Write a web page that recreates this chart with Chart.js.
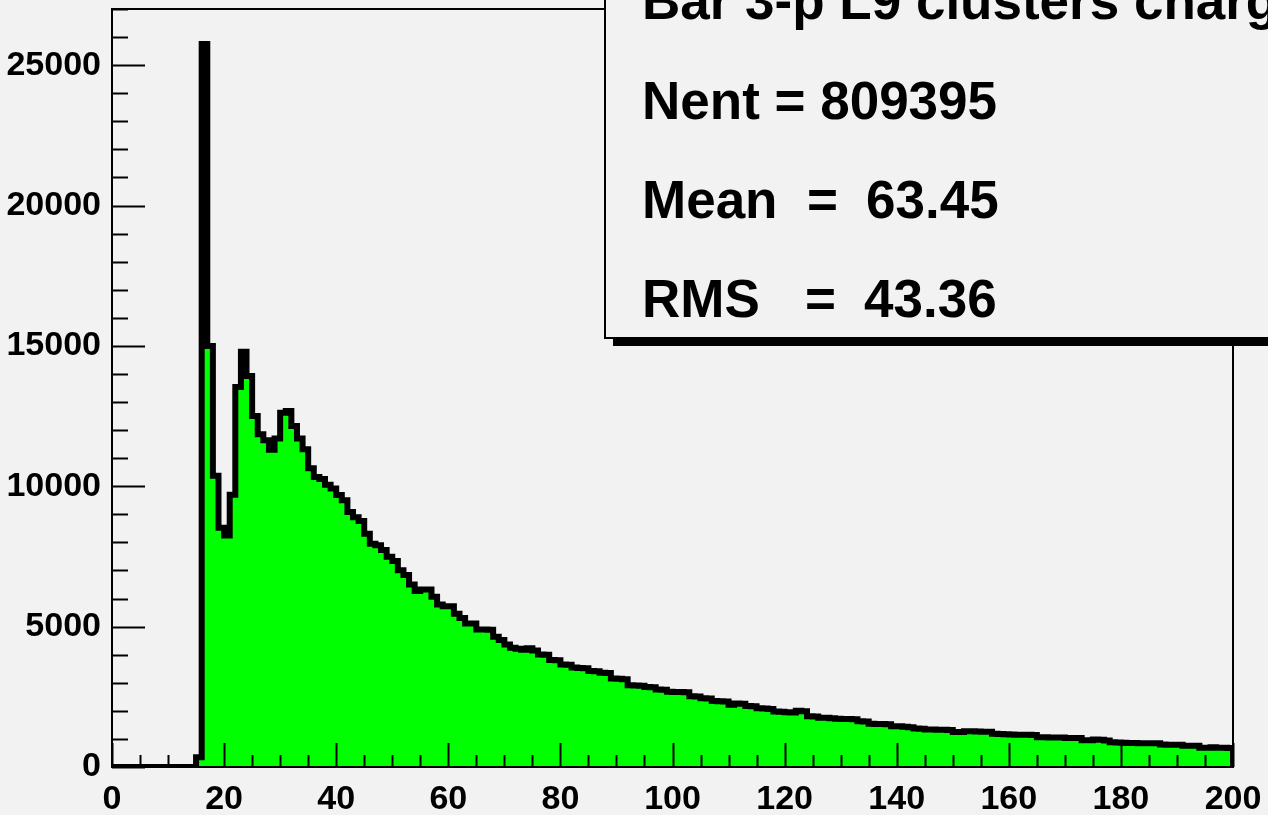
<!DOCTYPE html>
<html>
<head>
<meta charset="utf-8">
<script src="https://cdn.jsdelivr.net/npm/chart.js@4"></script>
<style>
  html, body { margin: 0; padding: 0; background: #f2f2f2; }
  #wrap { width: 1268px; height: 815px; }
</style>
</head>
<body>
<div id="wrap"><canvas id="histo" width="1268" height="815"></canvas></div>
<script>
// ============ data ============
// 200 bins of width 1, from 0 to 200
const counts = [
  0, 0, 0, 0, 0, 0, 0, 0, 0, 0,
  0, 0, 0, 0, 0, 350, 25750, 15000, 10370, 8520,
  8250, 9700, 13540, 14790, 13930, 12500, 11850, 11640, 11300, 11700,
  12620, 12680, 12150, 11700, 11320, 10640, 10330, 10260, 10050, 9920,
  9690, 9500, 9080, 8900, 8760, 8310, 7950, 7900, 7730, 7490,
  7335, 7010, 6840, 6500, 6270, 6320, 6320, 6060, 5790, 5730,
  5730, 5460, 5310, 5110, 5110, 4900, 4900, 4890, 4640, 4520,
  4360, 4250, 4210, 4180, 4230, 4150, 4010, 4000, 3810, 3800,
  3650, 3640, 3540, 3530, 3520, 3420, 3410, 3360, 3350, 3150,
  3140, 3130, 2910, 2900, 2890, 2850, 2840, 2760, 2750, 2680,
  2670, 2670, 2660, 2520, 2510, 2450, 2440, 2350, 2340, 2330,
  2220, 2260, 2250, 2170, 2160, 2090, 2080, 2070, 1980, 1970,
  1950, 1940, 2000, 1990, 1810, 1800, 1750, 1750, 1740, 1720,
  1710, 1710, 1700, 1630, 1620, 1540, 1530, 1530, 1520, 1450,
  1450, 1430, 1420, 1370, 1360, 1340, 1340, 1330, 1330, 1320,
  1250, 1245, 1270, 1270, 1265, 1260, 1255, 1180, 1175, 1170,
  1155, 1150, 1150, 1145, 1140, 1060, 1060, 1055, 1050, 1050,
  1035, 1030, 1030, 950, 950, 980, 975, 945, 880, 875,
  860, 855, 855, 850, 850, 845, 845, 800, 795, 790,
  790, 760, 755, 755, 690, 685, 700, 690, 685, 680
];
const xMin = 0;
const xMax = 200;
const yMax = 27000;

// tick labels
const xTicks = [0, 20, 40, 60, 80, 100, 120, 140, 160, 180, 200];
const yTicks = [0, 5000, 10000, 15000, 20000, 25000];

// stats box
const histTitle = 'Bar 3-p L9 clusters charge';
const statNames = ['Nent', 'Mean', 'RMS'];
const statValues = ['809395', '63.45', '43.36'];

// ============ build step points from the bins ============
// one point per left bin edge, then close on the right edge
const points = counts.map((c, i) => ({ x: xMin + i, y: c }));
points.push({ x: xMax, y: counts[counts.length - 1] });
points.push({ x: xMax, y: 0 });

const FONT = '"Liberation Sans", Arial, Helvetica, sans-serif';

// frame + inner ticks like ROOT
const framePlugin = {
  id: 'frame',
  afterDatasetsDraw(chart) {
    const { ctx, chartArea: a, scales } = chart;
    const xs = scales.x, ys = scales.y;
    ctx.save();
    ctx.strokeStyle = '#000';
    ctx.lineWidth = 2;
    ctx.beginPath();
    // y ticks: major every 5000, minor every 1000
    for (let v = 0; v <= yMax; v += 1000) {
      const py = Math.round(ys.getPixelForValue(v)) + 0.5;
      const len = (v % 5000 === 0) ? 33 : 16;
      ctx.moveTo(a.left, py);
      ctx.lineTo(a.left + len, py);
    }
    // x ticks: major every 20, minor every 5
    for (let v = xMin; v <= xMax; v += 5) {
      const px = Math.round(xs.getPixelForValue(v)) + 0.5;
      const len = (v % 20 === 0) ? 24 : 12;
      ctx.moveTo(px, a.bottom);
      ctx.lineTo(px, a.bottom - len);
    }
    ctx.stroke();
    ctx.strokeRect(a.left, a.top, a.right - a.left, a.bottom - a.top);
    ctx.restore();
  }
};

// stats box (top right, partly off the canvas)
const statsPlugin = {
  id: 'stats',
  afterDraw(chart) {
    const ctx = chart.ctx;
    ctx.save();
    // shadow
    ctx.fillStyle = '#000';
    ctx.fillRect(613, 339, 700, 7);
    // box
    ctx.fillStyle = '#f2f2f2';
    ctx.fillRect(605, -10, 700, 348);
    ctx.strokeStyle = '#000';
    ctx.lineWidth = 2;
    ctx.strokeRect(605, -10, 700, 348);

    ctx.fillStyle = '#000';
    ctx.font = 'bold 53px ' + FONT;
    ctx.textBaseline = 'alphabetic';
    ctx.textAlign = 'left';
    ctx.fillText(histTitle, 642, 19);
    ctx.fillText(statNames[0] + ' = ' + statValues[0], 642, 119);
    ctx.fillText(statNames[1], 642, 218);
    ctx.fillText('=', 807, 218);
    ctx.fillText(statValues[1], 866, 218);
    ctx.fillText(statNames[2], 642, 317);
    ctx.fillText('=', 805, 317);
    ctx.fillText(statValues[2], 864, 317);
    ctx.restore();
  }
};

const histoChart = new Chart(document.getElementById('histo'), {
  type: 'line',
  data: {
    datasets: [{
      data: points,
      stepped: 'before',
      borderColor: '#000',
      borderWidth: 6,
      backgroundColor: '#00ff00',
      fill: 'origin',
      pointRadius: 0,
      tension: 0
    }]
  },
  options: {
    responsive: false,
    animation: false,
    layout: { padding: { top: 9, right: 35, left: 0, bottom: 0 } },
    plugins: {
      legend: { display: false },
      tooltip: { enabled: false }
    },
    scales: {
      x: {
        type: 'linear',
        min: xMin,
        max: xMax,
        grid: { display: false, drawTicks: false },
        border: { display: false },
        afterBuildTicks: s => { s.ticks = xTicks.map(v => ({ value: v })); },
        ticks: {
          color: '#000',
          font: { family: FONT, size: 34, weight: 'bold' },
          maxRotation: 0,
          padding: 12
        },
        afterFit: s => {
          s.height = 48;
          s.paddingLeft = 0; s.paddingRight = 0;
          s.paddingTop = 0; s.paddingBottom = 0;
        }
      },
      y: {
        min: 0,
        max: yMax,
        grid: { display: false, drawTicks: false },
        border: { display: false },
        afterBuildTicks: s => { s.ticks = yTicks.map(v => ({ value: v })); },
        ticks: {
          color: '#000',
          font: { family: FONT, size: 34, weight: 'bold' },
          padding: 11,
          callback: v => String(v)
        },
        afterFit: s => {
          s.width = 112;
          s.paddingLeft = 0; s.paddingRight = 0;
          s.paddingTop = 0; s.paddingBottom = 0;
        }
      }
    }
  },
  plugins: [framePlugin, statsPlugin]
});
</script>
</body>
</html>
